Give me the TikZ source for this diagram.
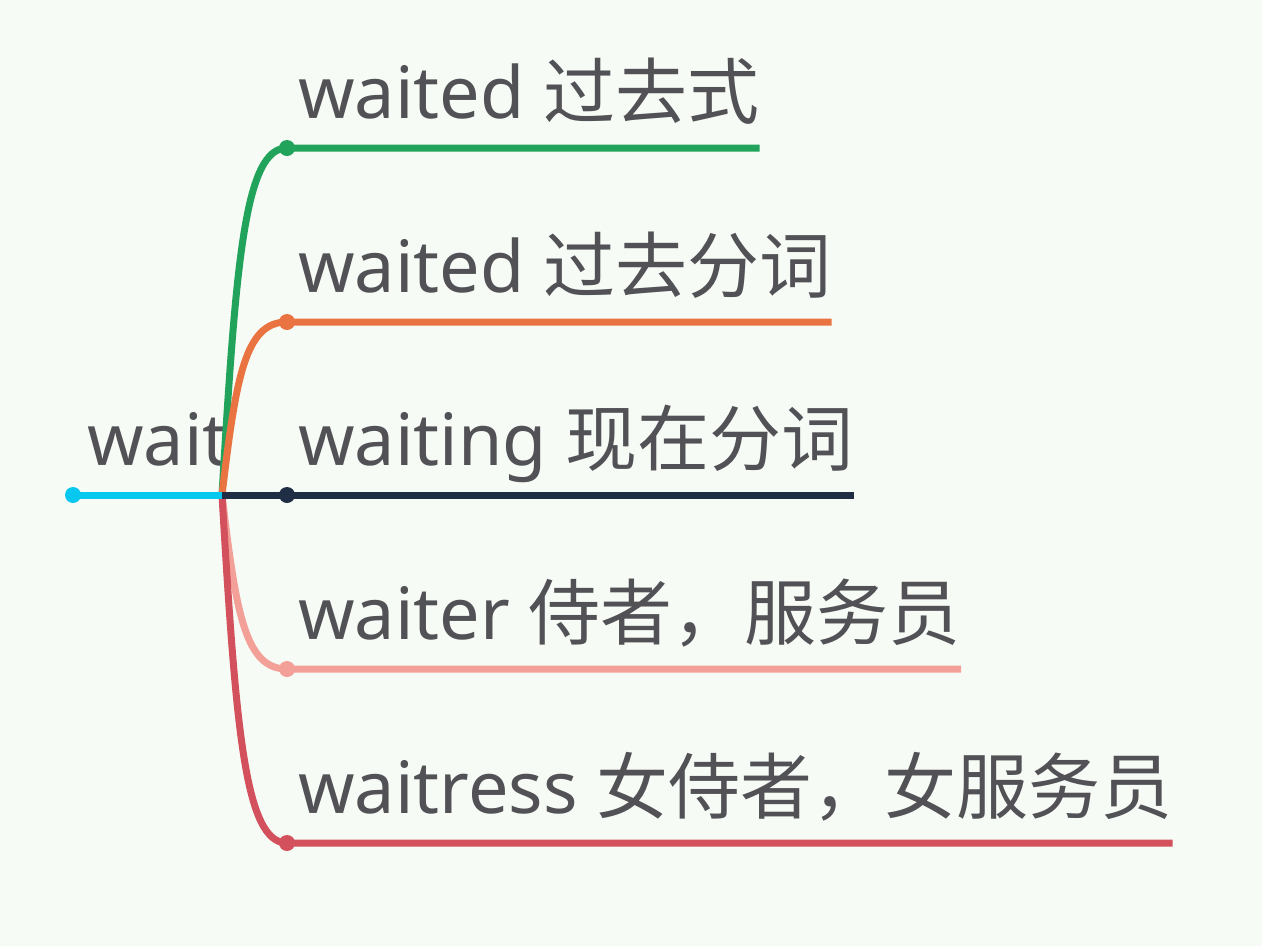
\documentclass[tikz,border=0pt]{standalone}
\usepackage{fontspec}
\setmainfont{Noto Sans}
\newfontfamily\cjk{Noto Sans CJK SC}
\usetikzlibrary{calc}
\definecolor{bg-tint}{HTML}{F7FBF6}
\definecolor{label-gray}{HTML}{515156}
\definecolor{root-cyan}{HTML}{08C8F0}
\definecolor{past-green}{HTML}{22A35C}
\definecolor{part-orange}{HTML}{E97441}
\definecolor{ing-navy}{HTML}{1F2E45}
\definecolor{er-pink}{HTML}{F2A098}
\definecolor{ress-red}{HTML}{D3515C}
\tikzset{
    branch-label/.style = {anchor=base west, inner sep=0pt, text=label-gray, font=\fontsize{72}{80}\selectfont},
    branch-line/.style = {line width=7pt},
    branch-dot/.style = {circle, fill, inner sep=0pt, minimum size=16pt},
}

\begin{document}
\begin{tikzpicture}[x=1pt,y=-1pt]
\fill[bg-tint] (0,0) rectangle (1262,946);
\useasboundingbox (0,0) rectangle (1262,946);

\coordinate (hub) at (222,495);
\coordinate (root-end) at (73,495);
\coordinate (past-end) at (287,148);
\coordinate (part-end) at (287,322);
\coordinate (ing-end) at (287,495);
\coordinate (er-end) at (287,669);
\coordinate (ress-end) at (287,843);

\node[branch-label] (root) at (87,465) {wait};
\node[branch-label] (past) at (298,118) {waited \cjk{过去式}};
\node[branch-label] (part) at (298,292) {waited \cjk{过去分词}};
\node[branch-label] (ing) at (298,465) {waiting \cjk{现在分词}};
\node[branch-label] (er) at (298,639) {waiter \cjk{侍者，服务员}};
\node[branch-label] (ress) at (298,813) {waitress \cjk{女侍者，女服务员}};

% branches
\draw[branch-line, past-green] (hub) .. controls (236,259) and (245,148) .. (past-end) -- (past-end -| past.east);
\draw[branch-line, part-orange] (hub) .. controls (236,377) and (245,322) .. (part-end) -- (part-end -| part.east);
\draw[branch-line, er-pink] (hub) .. controls (236,613) and (245,669) .. (er-end) -- (er-end -| er.east);
\draw[branch-line, ress-red] (hub) .. controls (236,731) and (245,843) .. (ress-end) -- (ress-end -| ress.east);
\draw[branch-line, ing-navy] (hub) -- (ing-end -| ing.east);
\draw[branch-line, root-cyan] (root-end) -- (hub);

% dots
\node[branch-dot, root-cyan] (root-dot) at (root-end) {};
\node[branch-dot, past-green] (past-dot) at (past-end) {};
\node[branch-dot, part-orange] (part-dot) at (part-end) {};
\node[branch-dot, ing-navy] (ing-dot) at (ing-end) {};
\node[branch-dot, er-pink] (er-dot) at (er-end) {};
\node[branch-dot, ress-red] (ress-dot) at (ress-end) {};
\end{tikzpicture}
\end{document}
